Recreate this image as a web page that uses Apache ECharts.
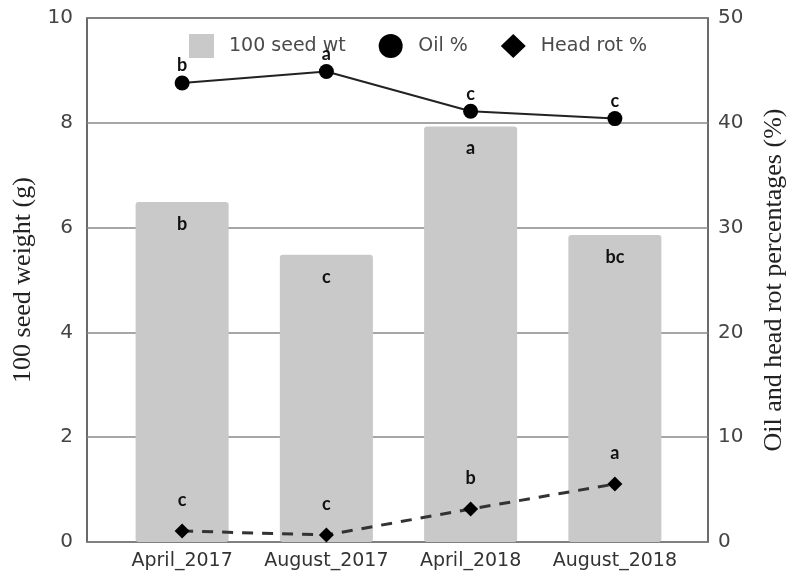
<!DOCTYPE html>
<html>
<head>
<meta charset="utf-8">
<script src="https://cdn.jsdelivr.net/npm/echarts@6/dist/echarts.min.js"></script>
<style>
  html, body { margin: 0; padding: 0; background: #fff; }
  #chart { width: 795px; height: 581px; }
</style>
</head>
<body>
<div id="chart"></div>
<script>
// Sampling dates
const categories = ['April_2017', 'August_2017', 'April_2018', 'August_2018'];
// 100 seed weight (g), left axis
const seedWeight = [6.49, 5.48, 7.93, 5.86];
const seedLetters = ['b', 'c', 'a', 'bc'];
// Oil content (%), right axis
const oilPct = [43.8, 44.9, 41.1, 40.4];
const oilLetters = ['b', 'a', 'c', 'c'];
// Head rot incidence (%), right axis
const headRotPct = [1.05, 0.67, 3.15, 5.53];
const headRotLetters = ['c', 'c', 'b', 'a'];
// Axis ticks
const leftTicks = [0, 2, 4, 6, 8, 10];
const rightTicks = [0, 10, 20, 30, 40, 50];

const sans = 'DejaVu Sans, Verdana, sans-serif';
const serif = 'Liberation Serif, Times New Roman, serif';
const letterFont = { fontFamily: 'Lato, Open Sans, sans-serif', fontWeight: 'bold', fontSize: 18, color: '#111' };

const chart = echarts.init(document.getElementById('chart'), null, { renderer: 'canvas' });

function withLetters(values, letters) {
  return values.map((v, i) => ({ value: v, label: { formatter: letters[i] } }));
}

chart.setOption({
  animation: false,
  backgroundColor: '#fff',
  grid: [
    // outer frame carrying the two value axes
    { left: 87, right: 83, top: 18, bottom: 39, show: true, borderColor: '#3a3a3a', borderWidth: 1.5 },
    // inner band where the categories sit
    { left: 110, right: 108, top: 18, bottom: 39 }
  ],
  legend: {
    left: 184,
    top: 29,
    itemWidth: 25,
    itemHeight: 24,
    itemGap: 33,
    textStyle: { fontFamily: sans, fontSize: 19, color: '#4a4a4a', padding: [0, 0, 0, 10] },
    data: [
      { name: '100 seed wt', icon: 'rect', itemStyle: { color: '#c9c9c9' } },
      { name: 'Oil %', icon: 'circle', itemStyle: { color: '#000' } },
      { name: 'Head rot %', icon: 'diamond', itemStyle: { color: '#000' } }
    ]
  },
  xAxis: [
    { gridIndex: 0, type: 'value', min: 0, max: 1, show: false },
    {
      gridIndex: 1,
      type: 'category',
      data: categories,
      boundaryGap: true,
      axisLine: { show: false },
      axisTick: { show: false },
      axisLabel: { interval: 0, hideOverlap: false, fontFamily: sans, fontSize: 19, color: '#333', margin: 10 }
    }
  ],
  yAxis: [
    {
      gridIndex: 0,
      type: 'value',
      position: 'left',
      min: leftTicks[0],
      max: leftTicks[leftTicks.length - 1],
      interval: leftTicks[1] - leftTicks[0],
      name: '100 seed weight (g)',
      nameLocation: 'middle',
      nameGap: 43,
      nameTextStyle: { fontFamily: serif, fontSize: 26, color: '#222' },
      axisLine: { show: false },
      axisTick: { show: false },
      axisLabel: { fontFamily: sans, fontSize: 20, color: '#444', margin: 14 },
      splitLine: { show: true, lineStyle: { color: '#888', width: 1.5 } }
    },
    {
      gridIndex: 0,
      type: 'value',
      position: 'right',
      min: rightTicks[0],
      max: rightTicks[rightTicks.length - 1],
      interval: rightTicks[1] - rightTicks[0],
      name: 'Oil and head rot percentages (%)',
      nameLocation: 'middle',
      nameGap: 53,
      nameTextStyle: { fontFamily: serif, fontSize: 26, color: '#222' },
      axisLine: { show: false },
      axisTick: { show: false },
      axisLabel: { fontFamily: sans, fontSize: 20, color: '#444', margin: 10 },
      splitLine: { show: false }
    },
    { gridIndex: 1, type: 'value', min: 0, max: 10, show: false, splitLine: { show: false } },
    { gridIndex: 1, type: 'value', min: 0, max: 50, show: false, splitLine: { show: false } }
  ],
  series: [
    {
      name: '100 seed wt',
      type: 'bar',
      xAxisIndex: 1,
      yAxisIndex: 2,
      barCategoryGap: '35.5%',
      itemStyle: { color: '#c9c9c9', borderRadius: 3 },
      label: { show: true, position: 'insideTop', distance: 13, ...letterFont },
      data: withLetters(seedWeight, seedLetters),
      z: 2
    },
    {
      name: 'Oil %',
      type: 'line',
      xAxisIndex: 1,
      yAxisIndex: 3,
      symbol: 'circle',
      symbolSize: 15,
      itemStyle: { color: '#000' },
      lineStyle: { color: '#222', width: 2 },
      label: { show: true, position: 'top', distance: 1, ...letterFont },
      data: withLetters(oilPct, oilLetters),
      z: 4
    },
    {
      name: 'Head rot %',
      type: 'line',
      xAxisIndex: 1,
      yAxisIndex: 3,
      symbol: 'diamond',
      symbolSize: 15,
      itemStyle: { color: '#000' },
      lineStyle: { color: '#333', width: 3, type: [11, 9] },
      label: { show: true, position: 'top', distance: 14, ...letterFont },
      data: withLetters(headRotPct, headRotLetters),
      z: 4
    }
  ]
});
</script>
</body>
</html>
